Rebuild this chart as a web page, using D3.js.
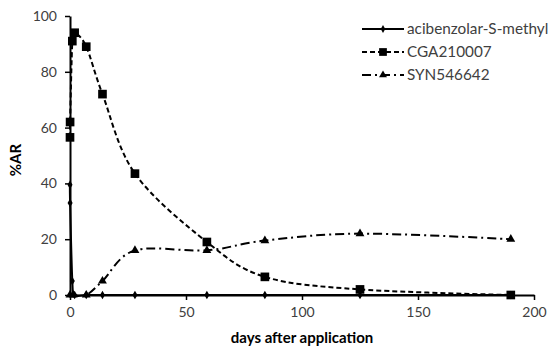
<!DOCTYPE html>
<html>
<head>
<meta charset="utf-8">
<script src="https://cdn.jsdelivr.net/npm/d3@7"></script>
<style>
  body { margin: 0; background: #fff; }
  svg { display: block; font-family: Lato, "Open Sans", sans-serif; }
</style>
</head>
<body>
<div id="chart"></div>
<script>
// data
const asmDays = [0, 0.04, 1, 2, 7, 14, 28, 59, 84, 125, 190];
const asmVals = [39.5, 33, 5, 0, 0, 0, 0, 0, 0, 0, 0];
const cgaDays = [0, 0.04, 1, 2, 7, 14, 28, 59, 84, 125, 190];
const cgaVals = [56.5, 62, 91, 94, 89, 72, 43.5, 19, 6.5, 2, 0];
const synDays = [0, 1.4, 7, 14, 28, 59, 84, 125, 190];
const synVals = [0, 0, 0, 5, 16, 16, 19.5, 22, 20];
const xTicks = [0, 50, 100, 150, 200];
const yTicks = [0, 20, 40, 60, 80, 100];

const width = 549, height = 352;
const margin = { top: 16, right: 15, bottom: 57, left: 70 };

const svg = d3.select("#chart").append("svg")
    .attr("width", width)
    .attr("height", height);

const x = d3.scaleLinear().domain([0, 200]).range([margin.left, width - margin.right]);
const y = d3.scaleLinear().domain([0, 100]).range([height - margin.bottom, margin.top]);

// axes
const xAxis = svg.append("g")
    .attr("transform", `translate(0,${y(0)})`)
    .call(d3.axisBottom(x).tickValues(xTicks).tickSize(5).tickSizeOuter(0).tickPadding(7));
const yAxis = svg.append("g")
    .attr("transform", `translate(${x(0)},0)`)
    .call(d3.axisLeft(y).tickValues(yTicks).tickSize(5).tickSizeOuter(0).tickPadding(8));

[xAxis, yAxis].forEach(a => {
    a.select(".domain").attr("stroke", "#000").attr("stroke-width", 2);
    a.selectAll(".tick line").attr("stroke", "#000").attr("stroke-width", 1.5);
    a.selectAll(".tick text")
        .attr("fill", "#404040")
        .style("font-size", "14px")
        .style("font-family", "Lato, 'Open Sans', sans-serif");
});

// axis titles
svg.append("text")
    .attr("x", (x(0) + x(200)) / 2)
    .attr("y", 343)
    .attr("text-anchor", "middle")
    .attr("fill", "#000")
    .style("font-size", "15px")
    .style("font-weight", "bold")
    .text("days after application");

svg.append("text")
    .attr("transform", `translate(21,160) rotate(-90)`)
    .attr("text-anchor", "middle")
    .attr("fill", "#000")
    .style("font-size", "15px")
    .style("font-weight", "bold")
    .text("%AR");

// series
const series = [
    { name: "acibenzolar-S-methyl", days: asmDays, vals: asmVals, dash: null, marker: d3.symbolDiamond, size: 22 },
    { name: "CGA210007", days: cgaDays, vals: cgaVals, dash: "5,3", marker: d3.symbolSquare, size: 75 },
    { name: "SYN546642", days: synDays, vals: synVals, dash: "9,4,2,4", marker: d3.symbolTriangle, size: 34 }
];

const line = d3.line()
    .x(d => x(d[0]))
    .y(d => y(d[1]))
    .curve(d3.curveCardinal.tension(0));

series.forEach(s => {
    const pts = s.days.map((d, i) => [d, s.vals[i]]);
    svg.append("path")
        .datum(pts)
        .attr("fill", "none")
        .attr("stroke", "#000")
        .attr("stroke-width", 2)
        .attr("stroke-dasharray", s.dash)
        .attr("d", line);

    svg.selectAll(null)
        .data(pts)
        .enter()
        .append("path")
        .attr("transform", d => `translate(${x(d[0])},${y(d[1])})`)
        .attr("d", d3.symbol().type(s.marker).size(s.size))
        .attr("fill", "#000");
});

// legend
const legend = svg.append("g");
series.forEach((s, i) => {
    const ly = 29 + i * 23;
    legend.append("line")
        .attr("x1", 362).attr("x2", 404)
        .attr("y1", ly).attr("y2", ly)
        .attr("stroke", "#000")
        .attr("stroke-width", 2)
        .attr("stroke-dasharray", s.dash);
    legend.append("path")
        .attr("transform", `translate(383,${ly})`)
        .attr("d", d3.symbol().type(s.marker).size(s.size * 0.8))
        .attr("fill", "#000");
    legend.append("text")
        .attr("x", 407)
        .attr("y", ly)
        .attr("dy", "0.35em")
        .attr("fill", "#404040")
        .style("font-size", "15.3px")
        .text(s.name);
});
</script>
</body>
</html>
